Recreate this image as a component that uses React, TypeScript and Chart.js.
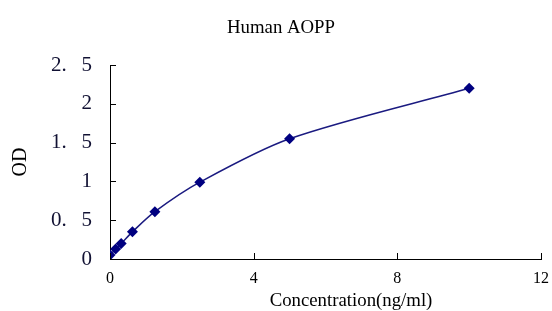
import React, { useEffect, useRef } from "react";
import { Chart, registerables } from "chart.js";

Chart.register(...registerables);

const concentrations = [0, 0.156, 0.312, 0.625, 1.25, 2.5, 5, 10];
const odValues = [0.05, 0.13, 0.2, 0.35, 0.61, 0.99, 1.55, 2.2];
const xTicks = [0, 4, 8, 12];
const yTicks = [0, 0.5, 1, 1.5, 2, 2.5];
const chartTitle = "Human AOPP";
const xAxisTitle = "Concentration(ng/ml)";
const yAxisTitle = "OD";

const insideTicks = {
  id: "insideTicks",
  afterDraw(chart: any) {
    const { ctx, chartArea, scales } = chart;
    const x = scales.x;
    const y = scales.y;
    ctx.save();
    ctx.strokeStyle = "#000";
    ctx.lineWidth = 1;
    ctx.beginPath();
    for (const t of xTicks) {
      const px = Math.round(x.getPixelForValue(t)) + 0.5;
      ctx.moveTo(px, chartArea.bottom);
      ctx.lineTo(px, chartArea.bottom - 6);
    }
    for (const t of yTicks) {
      const py = Math.round(y.getPixelForValue(t)) + 0.5;
      ctx.moveTo(chartArea.left, py);
      ctx.lineTo(chartArea.left + 6, py);
    }
    ctx.stroke();
    // titles
    ctx.fillStyle = "#000";
    ctx.font = "18.8px 'Liberation Serif'";
    ctx.textAlign = "center";
    ctx.textBaseline = "alphabetic";
    ctx.fillText(chartTitle, 281, 32.5);
    ctx.fillText(xAxisTitle, 351, 306);
    ctx.restore();
  },
};

export default function App() {
  const ref = useRef<HTMLCanvasElement | null>(null);
  useEffect(() => {
    if (!ref.current) return;
    const chart = new Chart(ref.current, {
      type: "scatter",
      data: {
        datasets: [
          {
            data: concentrations.map((c, i) => ({ x: c, y: odValues[i] })),
            showLine: true,
            borderColor: "#1a1a80",
            backgroundColor: "#000080",
            borderWidth: 1.5,
            pointStyle: "rectRot",
            pointRadius: 5.5,
            pointBorderWidth: 0,
            tension: 0.3,
          },
        ],
      },
      options: {
        animation: false,
        responsive: false,
        maintainAspectRatio: false,
        layout: { autoPadding: false, padding: { left: 0, right: 11, top: 65, bottom: 0 } },
        plugins: {
          legend: { display: false },
          tooltip: { enabled: false },
          title: { display: false },
        },
        scales: {
          x: {
            type: "linear",
            min: 0,
            max: 12,
            afterBuildTicks: (s: any) => {
              s.ticks = xTicks.map((v) => ({ value: v }));
            },
            afterFit: (s: any) => {
              s.height = 52;
              s.paddingLeft = 0;
              s.paddingRight = 0;
            },
            grid: { drawOnChartArea: false, drawTicks: false, color: "#000" },
            border: { color: "#000", width: 1 },
            ticks: {
              color: "#000",
              padding: 10,
              font: { family: "Liberation Serif", size: 16 },
            },
            title: { display: false },
          },
          y: {
            type: "linear",
            min: 0,
            max: 2.5,
            afterBuildTicks: (s: any) => {
              s.ticks = yTicks.map((v) => ({ value: v }));
            },
            afterFit: (s: any) => {
              s.width = 110;
              s.paddingTop = 0;
              s.paddingBottom = 0;
            },
            grid: { drawOnChartArea: false, drawTicks: false, color: "#000" },
            border: { color: "#000", width: 1 },
            ticks: {
              color: "#111133",
              padding: 18,
              font: { family: "Liberation Serif", size: 21 },
              callback: (v: any) => String(v).replace(".", ".\u2002\u2009"),
            },
            title: {
              display: true,
              text: yAxisTitle,
              color: "#000",
              font: { family: "Liberation Serif", size: 20 },
              padding: { top: 9, bottom: 0 },
            },
          },
        },
      },
      plugins: [insideTicks],
    });
    return () => chart.destroy();
  }, []);
  return (
    <div style={{ position: "fixed", left: 0, top: 0, width: 552, height: 311, background: "#fff" }}>
      <canvas ref={ref} width={552} height={311} style={{ width: 552, height: 311 }} />
    </div>
  );
}
